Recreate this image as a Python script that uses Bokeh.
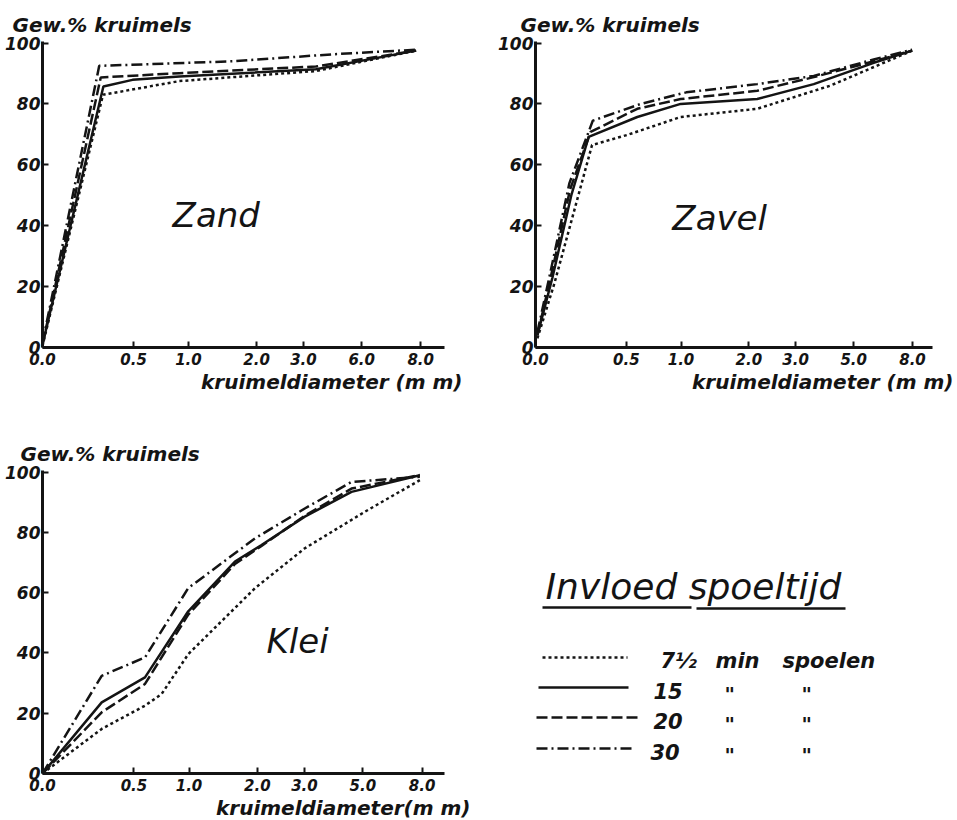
from bokeh.plotting import figure
from bokeh.layouts import gridplot
from bokeh.models import FixedTicker, Title, Label, Range1d
from bokeh.embed import file_html
from bokeh.resources import INLINE
from bokeh.core.properties import value

FONT = "DejaVu Sans"
INK = "#141414"

# ---------------- data ----------------
# x is the position along the (non-linear) diameter axis, 0 = "0.0", 100 = "8.0"
xtick_pos = [0, 24.1, 38.6, 56.6, 69.0, 84.4, 100]
xtick_labels_zand = ["0.0", "0.5", "1.0", "2.0", "3.0", "6.0", "8.0"]
xtick_labels_other = ["0.0", "0.5", "1.0", "2.0", "3.0", "5.0", "8.0"]
ytick_pos = [0, 20, 40, 60, 80, 100]

series_names = ["7½ min spoelen", "15 min spoelen", "20 min spoelen", "30 min spoelen"]

# Zand
zand_75_x = [0, 16.0, 36.2, 72.3, 98.8]
zand_75_y = [0.5, 83.0, 87.5, 90.8, 97.5]
zand_15_x = [0, 16.1, 23.8, 36.2, 72.3, 98.8]
zand_15_y = [1.0, 85.7, 87.9, 89.0, 91.4, 97.5]
zand_20_x = [0, 15.4, 36.2, 72.3, 98.8]
zand_20_y = [1.0, 88.7, 90.1, 92.3, 97.5]
zand_30_x = [0, 15.0, 50.3, 76.7, 98.8]
zand_30_y = [1.5, 92.5, 94.0, 96.3, 97.8]

# Zavel
zavel_75_x = [0.5, 5.0, 10.5, 15.0, 24.3, 38.5, 58.8, 78.2, 99.9]
zavel_75_y = [3.0, 21.0, 46.0, 66.5, 69.8, 75.7, 78.4, 86.0, 97.5]
zavel_15_x = [0.5, 4.5, 9.5, 14.1, 27.0, 38.5, 58.8, 73.8, 89.7, 99.9]
zavel_15_y = [4.0, 23.0, 50.0, 69.2, 75.7, 80.0, 81.6, 86.5, 93.5, 97.5]
zavel_20_x = [0.5, 4.2, 9.2, 14.6, 27.0, 38.5, 58.8, 73.8, 89.7, 99.9]
zavel_20_y = [4.0, 24.0, 52.0, 70.8, 78.4, 81.6, 84.3, 88.8, 94.0, 97.5]
zavel_30_x = [0.5, 4.0, 9.0, 15.2, 27.9, 40.0, 58.8, 73.8, 89.7, 99.9]
zavel_30_y = [5.0, 25.0, 54.0, 74.5, 80.0, 83.8, 86.5, 89.2, 94.6, 97.8]

# Klei
klei_75_x = [0, 15.6, 27.0, 31.4, 38.4, 56.0, 69.1, 84.9, 99.4]
klei_75_y = [0, 14.8, 22.5, 26.4, 39.6, 61.5, 74.7, 86.8, 97.3]
klei_15_x = [0, 15.6, 27.0, 38.4, 50.7, 57.7, 69.1, 81.4, 99.4]
klei_15_y = [0, 23.6, 31.9, 53.8, 70.3, 75.8, 85.2, 93.4, 98.9]
klei_20_x = [0, 15.6, 27.0, 38.4, 50.7, 57.7, 69.1, 81.4, 99.4]
klei_20_y = [0, 20.3, 29.7, 52.7, 69.5, 75.5, 85.5, 94.5, 99.0]
klei_30_x = [0, 15.6, 27.0, 38.4, 56.0, 69.1, 81.4, 99.4]
klei_30_y = [0, 32.4, 38.5, 61.5, 78.0, 87.9, 96.7, 98.4]

DASHES = ["3 3", "solid", "11 4", "11 4 2 4"]


def make_panel(w, h, left, right, top, bottom, xend, labels, series, name, name_x,
               name_y, ytitle_off, xtitle, xtitle_off):
    p = figure(width=w, height=h, x_range=Range1d(0, xend), y_range=Range1d(0, 100.5),
               toolbar_location=None, output_backend="svg",
               min_border_left=left, min_border_right=right,
               min_border_top=top, min_border_bottom=bottom)
    p.grid.visible = False
    p.outline_line_color = None
    p.xaxis.ticker = FixedTicker(ticks=xtick_pos)
    p.xaxis.major_label_overrides = {t: l for t, l in zip(xtick_pos, labels)}
    p.yaxis.ticker = FixedTicker(ticks=ytick_pos)
    p.axis.axis_line_width = 3
    p.axis.axis_line_color = INK
    p.axis.major_tick_in = 6
    p.axis.major_tick_out = 0
    p.axis.major_tick_line_width = 2
    p.axis.major_tick_line_color = INK
    p.axis.minor_tick_line_color = None
    p.axis.major_label_text_font = FONT
    p.axis.major_label_text_font_style = "bold italic"
    p.axis.major_label_text_color = INK
    p.xaxis.major_label_text_font_size = "15px"
    p.yaxis.major_label_text_font_size = "17px"
    p.xaxis.major_label_standoff = 5
    p.yaxis.major_label_standoff = 2

    for (xs, ys), dash in zip(series, DASHES):
        p.line(xs, ys, line_width=2.5, line_dash=dash, line_color=INK)

    p.add_layout(Label(x=name_x, y=name_y, text=name, text_font=FONT,
                       text_font_style="italic", text_font_size="34px",
                       text_baseline="middle", text_color=INK))
    p.add_layout(Title(text="Gew.% kruimels", align="left", offset=ytitle_off,
                       text_font=FONT, text_font_style="bold italic",
                       text_font_size="20px", text_color=INK, standoff=10), "above")
    p.add_layout(Title(text=xtitle, align="right", offset=xtitle_off,
                       text_font=FONT, text_font_style="bold italic",
                       text_font_size="20px", text_color=INK, standoff=0), "below")
    return p


p1 = make_panel(478, 410, 42, 34, 41, 63, 106.3, xtick_labels_zand,
                [(zand_75_x, zand_75_y), (zand_15_x, zand_15_y),
                 (zand_20_x, zand_20_y), (zand_30_x, zand_30_y)],
                "Zand", 34.4, 43.5, -30, "kruimeldiameter (m m)", -18)
p2 = make_panel(479, 410, 57, 25, 41, 63, 105.3, xtick_labels_other,
                [(zavel_75_x, zavel_75_y), (zavel_15_x, zavel_15_y),
                 (zavel_20_x, zavel_20_y), (zavel_30_x, zavel_30_y)],
                "Zavel", 36.3, 42.5, -15, "kruimeldiameter (m m)", -21)
p3 = make_panel(478, 410, 42, 34, 60, 47, 105.9, xtick_labels_other,
                [(klei_75_x, klei_75_y), (klei_15_x, klei_15_y),
                 (klei_20_x, klei_20_y), (klei_30_x, klei_30_y)],
                "Klei", 59.0, 43.9, -22, "kruimeldiameter(m m)", -26)

# ---------------- legend panel ----------------
# borders match the aligned neighbours so that the frame maps 1:1 onto the cell
p4 = figure(width=479, height=410, x_range=Range1d(57, 454), y_range=Range1d(363, 60),
            toolbar_location=None, output_backend="svg",
            min_border_left=57, min_border_right=25, min_border_top=60,
            min_border_bottom=47, x_axis_location=None, y_axis_location=None)
p4.grid.visible = False
p4.outline_line_color = None

p4.text(x=[67], y=[176], text=["Invloed spoeltijd"], text_font=value(FONT),
        text_font_style="italic", text_font_size="36px", text_baseline="middle",
        text_color=INK)
p4.segment(x0=[64, 218], y0=[197, 198], x1=[213, 367], y1=[197, 198],
           line_width=2.5, line_color=INK)

row_y = [247, 277, 307, 338]
row_x0 = [64, 60, 58, 58]
row_x1 = [149, 150, 159, 157]
for y, x0, x1, dash in zip(row_y, row_x0, row_x1, DASHES):
    p4.line([x0, x1], [y, y], line_width=2.5, line_dash=dash, line_color=INK)

num_labels = ["7½", "15", "20", "30"]
p4.text(x=[182, 175, 175, 172], y=[y + 3 for y in row_y], text=num_labels,
        text_font=value(FONT), text_font_style="bold italic", text_font_size="21px",
        text_baseline="middle", text_color=INK)
p4.text(x=[237, 304], y=[row_y[0] + 3] * 2, text=["min", "spoelen"],
        text_font=value(FONT), text_font_style="bold italic", text_font_size="21px",
        text_baseline="middle", text_color=INK)
ditto_x = [246, 323] * 3
ditto_y = [row_y[1] + 6] * 2 + [row_y[2] + 6] * 2 + [row_y[3] + 6] * 2
p4.text(x=ditto_x, y=ditto_y, text=['"'] * 6, text_font=value(FONT),
        text_font_style="bold italic", text_font_size="20px", text_baseline="middle",
        text_color=INK)

grid = gridplot([[p1, p2], [p3, p4]], toolbar_location=None)

open("out.html", "w").write(file_html(grid, INLINE))
